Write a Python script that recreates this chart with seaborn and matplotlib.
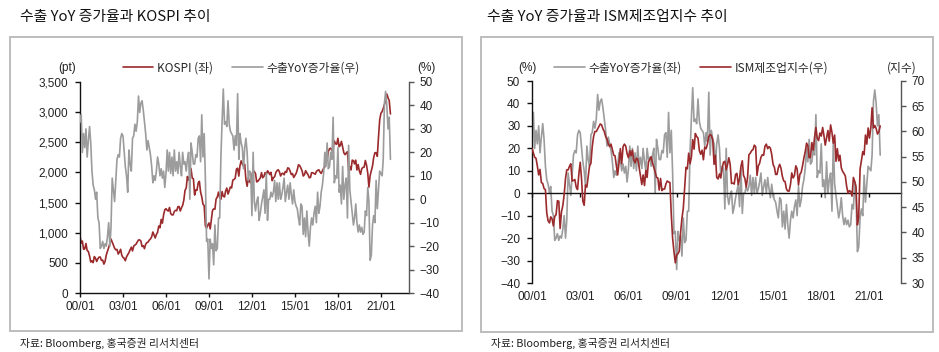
import numpy as np
import pandas as pd
import matplotlib
matplotlib.use("Agg")
import matplotlib.pyplot as plt
import matplotlib.dates as mdates
import seaborn as sns
from matplotlib.ticker import FuncFormatter, MultipleLocator
from matplotlib.patches import Rectangle

# ---------------- data (monthly, 2000-01 .. 2021-09) ----------------
export_yoy = [
    33, 36, 20, 28, 22, 30, 18, 25, 31, 24, 12, 6,          # 2000
    4, 0, 3, -8, -10, -21, -20, -18, -21, -19, -20, -16,    # 2001
    -10, -20, -12, 9, 4, -1, 8, 17, 19, 18, 26, 28,         # 2002
    27, 20, 14, 10, 3, 21, 15, 12, 26, 27, 32, 29,          # 2003
    33, 44, 37, 41, 42, 38, 33, 28, 21, 25, 22, 19,         # 2004
    14, 7, 10, 8, 12, 18, 15, 10, 13, 9, 12, 5,             # 2005
    11, 21, 12, 20, 11, 18, 10, 21, 12, 16, 11, 20,         # 2006
    14, 10, 20, 15, 16, 12, 17, 20, 0, 24, 20, 15,          # 2007
    15, 19, 18, 26, 27, 16, 36, 18, 28, 9, -18, -17,        # 2008
    -34, -17, -21, -19, -28, -11, -22, -21, -8, -8, 18, 33, # 2009
    47, 32, 33, 31, 42, 32, 29, 28, 27, 21, 27, 23,         # 2010
    45, 17, 28, 24, 22, 13, 22, 26, 20, 8, 12, 11,          # 2011
    -7, 20, -1, -5, -1, 1, -9, -6, -2, 1, 4, -6,            # 2012
    11, -9, 0, 0, 3, 1, 3, 8, -1, 7, 0, 7,                  # 2013
    0, 2, 5, 9, -1, 3, 6, 0, 7, 2, -2, 4,                   # 2014
    -1, -3, -4, -8, -11, -2, -3, -15, -8, -16, -5, -14,     # 2015
    -20, -12, -8, -11, -6, -3, -10, 3, -6, -3, 3, 6,        # 2016
    11, 20, 14, 24, 13, 14, 20, 17, 35, 7, 10, 9,           # 2017
    22, 3, 6, -2, 14, 0, 6, 9, -8, 23, 4, -1,               # 2018
    -6, -11, -8, -2, -10, -14, -11, -14, -12, -15, -14, -5, # 2019
    -7, 5, -1, -26, -24, -11, -7, -10, 8, -4, 4, 12,        # 2020
    11, 10, 17, 41, 46, 40, 30, 35, 17,                     # 2021
]

kospi = [
    943, 829, 861, 725, 732, 821, 705, 689, 613, 514, 532, 504,
    604, 576, 523, 566, 596, 596, 541, 546, 479, 523, 629, 693,
    752, 822, 895, 846, 796, 743, 716, 723, 646, 678, 725, 627,
    591, 575, 535, 600, 634, 670, 716, 760, 697, 778, 796, 811,
    848, 880, 881, 862, 770, 785, 735, 809, 835, 845, 878, 896,
    932, 1012, 965, 912, 970, 1008, 1111, 1083, 1221, 1158, 1297, 1379,
    1399, 1371, 1359, 1419, 1318, 1295, 1297, 1352, 1371, 1364, 1432, 1434,
    1360, 1417, 1452, 1542, 1700, 1744, 1933, 1873, 1946, 2065, 1906, 1897,
    1625, 1712, 1704, 1825, 1852, 1674, 1595, 1474, 1448, 1113, 1076, 1124,
    1162, 1063, 1206, 1369, 1396, 1390, 1557, 1592, 1673, 1581, 1555, 1683,
    1602, 1594, 1692, 1741, 1641, 1698, 1759, 1743, 1873, 1883, 1905, 2051,
    2070, 1939, 2107, 2192, 2142, 2101, 2133, 1880, 1770, 1910, 1847, 1826,
    1956, 2031, 2014, 1982, 1843, 1854, 1881, 1906, 1996, 1912, 1933, 1997,
    1962, 2027, 2005, 1964, 2001, 1863, 1914, 1926, 1997, 2030, 2045, 2011,
    1941, 1980, 1986, 1961, 2017, 2002, 2076, 2068, 2020, 1964, 1981, 1916,
    1949, 1986, 2041, 2127, 2115, 2074, 2030, 1941, 1963, 2029, 1992, 1961,
    1912, 1917, 1996, 1994, 1983, 1970, 2016, 2034, 2044, 2008, 1983, 2026,
    2067, 2092, 2160, 2205, 2347, 2392, 2402, 2363, 2394, 2523, 2476, 2467,
    2566, 2427, 2446, 2515, 2423, 2326, 2295, 2323, 2343, 2030, 2097, 2041,
    2204, 2195, 2141, 2204, 2041, 2131, 2025, 1968, 2063, 2083, 2088, 2198,
    2119, 1987, 1755, 1947, 2030, 2108, 2249, 2326, 2328, 2267, 2591, 2873,
    2980, 3010, 3060, 3130, 3180, 3300, 3240, 3190, 2970,
]

ism = [
    56.7, 55.8, 54.9, 54.7, 53.2, 51.4, 52.5, 49.9, 49.7, 48.7, 48.5, 43.9,
    42.3, 41.9, 43.1, 42.7, 41.3, 43.2, 43.5, 46.3, 46.2, 40.8, 44.1, 45.3,
    47.5, 50.7, 52.4, 52.4, 53.1, 53.6, 50.2, 50.3, 50.5, 49.0, 48.5, 51.6,
    53.9, 50.5, 46.2, 45.4, 49.4, 49.0, 51.0, 53.2, 53.7, 57.0, 59.0, 60.0,
    60.0, 60.5, 61.0, 61.5, 61.3, 60.5, 60.0, 59.0, 58.5, 57.5, 57.0, 57.5,
    56.4, 55.3, 55.2, 53.3, 51.4, 53.8, 56.6, 53.6, 57.0, 57.5, 57.1, 55.6,
    54.8, 56.2, 55.2, 56.3, 54.4, 53.8, 54.7, 54.5, 52.9, 51.2, 49.5, 51.4,
    49.3, 52.3, 50.9, 54.0, 54.5, 55.0, 53.8, 52.9, 52.0, 50.9, 50.8, 48.4,
    50.7, 48.3, 48.6, 48.6, 49.6, 50.2, 50.0, 49.9, 43.5, 38.9, 36.2, 34.0,
    35.6, 35.8, 36.3, 40.1, 42.8, 44.8, 48.9, 52.9, 52.6, 55.7, 53.6, 54.9,
    58.4, 56.5, 59.6, 59.0, 58.7, 56.2, 55.5, 56.3, 54.4, 56.9, 56.6, 57.5,
    59.0, 59.4, 59.2, 58.4, 53.5, 55.3, 50.9, 50.6, 51.6, 50.8, 52.7, 53.9,
    54.1, 52.4, 53.4, 54.8, 53.5, 49.7, 49.8, 49.6, 51.5, 51.7, 49.5, 50.7,
    53.1, 54.2, 51.3, 50.7, 49.0, 50.9, 55.4, 55.7, 56.2, 56.4, 57.3, 57.0,
    51.3, 53.2, 53.7, 54.9, 55.4, 55.3, 57.1, 57.5, 56.6, 57.0, 56.7, 55.5,
    53.5, 52.9, 51.5, 51.5, 52.8, 53.5, 52.7, 51.1, 50.2, 50.1, 48.6, 48.2,
    48.2, 49.5, 51.8, 50.8, 51.3, 53.2, 52.6, 49.4, 51.5, 51.9, 53.2, 54.7,
    56.0, 57.7, 57.2, 54.8, 54.9, 57.8, 56.3, 58.8, 60.8, 58.7, 58.2, 59.7,
    59.1, 60.8, 59.3, 57.3, 58.7, 60.2, 58.1, 61.3, 59.8, 57.7, 59.3, 54.1,
    56.6, 54.2, 55.3, 52.8, 52.1, 51.7, 51.2, 49.1, 47.8, 48.3, 48.1, 47.2,
    50.9, 50.1, 49.1, 41.5, 43.1, 52.6, 54.2, 56.0, 55.4, 59.3, 57.5, 60.7,
    58.7, 60.8, 64.7, 60.7, 61.2, 60.6, 59.5, 59.9, 61.1,
]

dates = pd.date_range("2000-01-01", periods=len(export_yoy), freq="MS")
tick_years = [2000, 2003, 2006, 2009, 2012, 2015, 2018, 2021]
kospi_ticks = [0, 500, 1000, 1500, 2000, 2500, 3000, 3500]
pct_ticks = [-40, -30, -20, -10, 0, 10, 20, 30, 40, 50]
ism_ticks = [30, 35, 40, 45, 50, 55, 60, 65, 70]

df = pd.DataFrame({"date": dates, "export": export_yoy, "kospi": kospi, "ism": ism})

# ---------------- style ----------------
sns.set_theme(style="white")
plt.rcParams["font.family"] = ["Liberation Sans", "Noto Sans CJK KR"]
plt.rcParams["axes.unicode_minus"] = True

RED = "#9B2A2C"
GRAY = "#9C9C9C"
TXT = "#222222"
KR = ["Noto Sans CJK KR", "DejaVu Sans"]

W, H = 939, 352
fig = plt.figure(figsize=(W / 100, H / 100), dpi=100)

def fx(px):
    return px / W

def fy(py):
    return 1 - py / H

# panel frames
for (x0, y0, x1, y1) in [(9.5, 37, 462, 330.5), (481, 37, 933, 331.5)]:
    fig.patches.append(Rectangle((fx(x0), fy(y1)), fx(x1 - x0), (y1 - y0) / H,
                                 transform=fig.transFigure, fill=False,
                                 edgecolor="#BDBDBD", linewidth=1.4))

# titles & sources
fig.text(fx(20), fy(17), "수출 YoY 증가율과 KOSPI 추이", family=KR, fontsize=10.7,
         fontweight="medium", color="#111111", va="center", ha="left")
fig.text(fx(487), fy(17), "수출 YoY 증가율과 ISM제조업지수 추이", family=KR, fontsize=10.7,
         fontweight="medium", color="#111111", va="center", ha="left")
fig.text(fx(20), fy(343), "자료: Bloomberg, 홍국증권 리서치센터", family=KR, fontsize=7.8,
         color="#222222", va="center", ha="left")
fig.text(fx(491), fy(343), "자료: Bloomberg, 홍국증권 리서치센터", family=KR, fontsize=7.8,
         color="#222222", va="center", ha="left")

xlim = (pd.Timestamp("2000-01-01"), pd.Timestamp("2022-12-18"))
xticks = [pd.Timestamp(f"{y}-01-01") for y in tick_years]
datefmt = mdates.DateFormatter("%y/%m")

def style_common(ax):
    ax.set_xlim(*xlim)
    ax.set_xlabel("")
    ax.set_ylabel("")
    ax.grid(False)
    ax.set_facecolor("none")

# ---------------- left panel ----------------
axL = fig.add_axes([fx(80), fy(293), fx(409 - 80), (293 - 82) / H])
sns.lineplot(data=df, x="date", y="kospi", ax=axL, color=RED, linewidth=1.2)
axR = axL.twinx()
sns.lineplot(data=df, x="date", y="export", ax=axR, color=GRAY, linewidth=1.2)
for a in (axL, axR):
    style_common(a)
axL.set_ylim(0, 3500)
axL.set_yticks(kospi_ticks)
axL.yaxis.set_major_formatter(FuncFormatter(lambda v, p: f"{int(v):,}"))
axR.set_ylim(-40, 50)
axR.set_yticks(pct_ticks)
axL.set_xticks(xticks)
axL.xaxis.set_major_formatter(datefmt)
for s in ("top",):
    axL.spines[s].set_visible(False)
    axR.spines[s].set_visible(False)
axR.spines["left"].set_visible(False)
axR.spines["bottom"].set_visible(False)
axL.spines["right"].set_visible(False)
axL.spines["left"].set_color("#111111")
axL.spines["bottom"].set_color("#111111")
axR.spines["right"].set_color("#555555")
for sp in list(axL.spines.values()) + list(axR.spines.values()):
    sp.set_linewidth(1.0)
axL.tick_params(axis="y", direction="out", length=3.5, width=1, color="#111111",
                labelsize=8.5, labelcolor=TXT, pad=5, left=True)
axL.tick_params(axis="x", direction="out", length=3, width=1, color="#111111",
                labelsize=8.5, labelcolor=TXT, pad=3, bottom=True)
axR.tick_params(axis="y", direction="out", length=3.5, width=1, color="#555555",
                labelsize=8.5, labelcolor=TXT, pad=4, right=True)

fig.text(fx(67), fy(68), "(pt)", fontsize=8.5, color=TXT, ha="center", va="center")
fig.text(fx(426), fy(68), "(%)", fontsize=8.5, color=TXT, ha="center", va="center")

hL = [axL.lines[0], axR.lines[0]]
leg1 = fig.legend(hL, ["KOSPI (좌)", "수출YoY증가율(우)"], loc="center",
                  bbox_to_anchor=(fx(241), fy(68)), ncol=2, frameon=False,
                  handlelength=2.6, handletextpad=0.3,
                  columnspacing=1.6, prop={"family": KR, "size": 8.5})

# ---------------- right panel ----------------
ax2L = fig.add_axes([fx(532), fy(283), fx(901 - 532), (283 - 81) / H])
sns.lineplot(data=df, x="date", y="export", ax=ax2L, color=GRAY, linewidth=1.2)
ax2R = ax2L.twinx()
sns.lineplot(data=df, x="date", y="ism", ax=ax2R, color=RED, linewidth=1.2)
for a in (ax2L, ax2R):
    style_common(a)
ax2L.set_ylim(-40, 50)
ax2L.set_yticks(pct_ticks)
ax2R.set_ylim(30, 70)
ax2R.set_yticks(ism_ticks)
ax2L.set_xticks(xticks)
ax2L.spines["bottom"].set_position(("data", 0))
ax2L.spines["bottom"].set_color("#111111")
ax2L.spines["left"].set_color("#111111")
ax2L.spines["top"].set_visible(False)
ax2L.spines["right"].set_visible(False)
ax2R.spines["top"].set_visible(False)
ax2R.spines["left"].set_visible(False)
ax2R.spines["bottom"].set_visible(False)
ax2R.spines["right"].set_color("#555555")
for sp in list(ax2L.spines.values()) + list(ax2R.spines.values()):
    sp.set_linewidth(1.0)
ax2L.tick_params(axis="x", direction="out", length=3, width=1, color="#111111",
                 labelbottom=False, bottom=True)
ax2L.tick_params(axis="y", direction="out", length=3.5, width=1, color="#111111",
                 labelsize=8.5, labelcolor=TXT, pad=5, left=True)
ax2R.tick_params(axis="y", direction="out", length=3.5, width=1, color="#555555",
                 labelsize=8.5, labelcolor=TXT, pad=4, right=True)
sec = ax2L.secondary_xaxis("bottom")
sec.set_xticks([mdates.date2num(t) for t in xticks])
sec.xaxis.set_major_formatter(datefmt)
sec.tick_params(length=0, labelsize=8.5, labelcolor=TXT, pad=6)
sec.spines["bottom"].set_visible(False)

fig.text(fx(527), fy(68), "(%)", fontsize=8.5, color=TXT, ha="center", va="center")
fig.text(fx(902), fy(68), "(지수)", family=KR, fontsize=8.5, color=TXT, ha="center", va="center")

hR = [ax2L.lines[0], ax2R.lines[0]]
leg2 = fig.legend(hR, ["수출YoY증가율(좌)", "ISM제조업지수(우)"], loc="center",
                  bbox_to_anchor=(fx(691), fy(68)), ncol=2, frameon=False,
                  handlelength=2.6, handletextpad=0.3, columnspacing=1.6,
                  prop={"family": KR, "size": 8.5})

fig.savefig("out.png", dpi=100, facecolor="white")
